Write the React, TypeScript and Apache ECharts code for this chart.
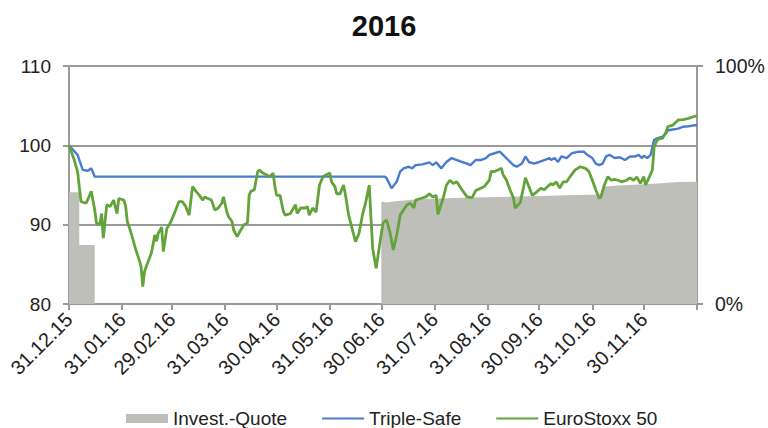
import React, { useEffect, useRef } from "react";
import * as echarts from "echarts";

// Day offsets are counted from 31.12.15 (day 0) to 31.12.16 (day 366)
const titleText = "2016";
const seriesNames = ["Invest.-Quote", "Triple-Safe", "EuroStoxx 50"];
const leftTicks = { min: 80, max: 110, interval: 10 };
const rightTicks = { min: 0, max: 100, interval: 100 };

// Invest.-Quote (% of capital invested, right axis)
const quoteDays = [0, 6, 6, 15, 15, 182, 182, 185, 190, 200, 210, 230, 250, 270, 290, 310, 311, 320, 335, 345, 355, 366];
const quoteValues = [47, 47, 24.8, 24.8, 0, 0, 43, 42.6, 43.2, 43.8, 44.2, 44.6, 45.0, 45.3, 45.7, 46.0, 49.3, 49.8, 50.3, 50.7, 51.3, 51.4];

// Triple-Safe (left axis)
const safeDays = [0, 5, 8, 11, 13, 15, 184, 185, 188, 191, 193, 195, 198, 200, 202, 206, 210, 212, 214, 217, 220, 223, 226, 229, 232, 234, 237, 240, 243, 245, 248, 251, 253, 256, 259, 261, 264, 266, 268, 271, 274, 277, 280, 281, 283, 285, 287, 290, 293, 297, 300, 302, 305, 307, 309, 311, 313, 315, 318, 321, 324, 327, 330, 332, 334, 335, 337, 339, 341, 343, 346, 348, 349, 352, 355, 358, 361, 365, 366];
const safeValues = [100, 98.8, 96.9, 96.8, 97.1, 96.05, 96.05, 95.9, 94.6, 95.4, 96.7, 97.1, 97.3, 97.1, 97.5, 97.6, 97.85, 97.5, 97.85, 97.1, 97.9, 98.4, 98.15, 97.9, 97.7, 97.5, 98.15, 98.15, 98.4, 98.8, 99.0, 99.2, 98.8, 98.15, 97.5, 97.3, 97.7, 98.6, 97.9, 97.7, 97.9, 98.15, 98.4, 98.15, 98.4, 97.9, 98.6, 98.4, 99.0, 99.2, 99.2, 98.8, 98.4, 97.7, 97.5, 97.7, 98.6, 98.8, 98.4, 98.5, 98.15, 98.6, 98.6, 98.8, 98.4, 98.7, 98.4, 98.8, 100.7, 100.9, 101.1, 101.5, 101.9, 102.0, 102.1, 102.35, 102.4, 102.55, 102.5];

// EuroStoxx 50 (left axis)
const stoxxDays = [0, 3, 5, 6, 7, 10, 13, 15, 16, 18, 19, 20, 22, 24, 26, 28, 29, 32, 33, 34, 36, 39, 41, 42, 43, 44, 46, 48, 50, 51, 52, 54, 55, 57, 59, 61, 64, 66, 68, 70, 72, 74, 76, 78, 79, 81, 83, 85, 87, 89, 90, 92, 93, 95, 96, 98, 100, 102, 104, 105, 106, 108, 110, 111, 113, 115, 117, 119, 120, 121, 123, 125, 126, 129, 132, 133, 135, 138, 139, 140, 142, 144, 146, 148, 150, 152, 153, 155, 156, 158, 160, 161, 163, 165, 167, 169, 171, 173, 175, 176, 177, 179, 181, 183, 185, 187, 189, 191, 193, 195, 197, 199, 201, 202, 205, 208, 210, 212, 214, 215, 218, 220, 222, 224, 226, 229, 232, 235, 237, 240, 242, 245, 246, 248, 250, 252, 253, 255, 257, 259, 260, 263, 265, 266, 268, 270, 273, 275, 277, 279, 281, 282, 284, 286, 288, 290, 292, 295, 298, 301, 303, 305, 307, 309, 310, 312, 314, 316, 318, 320, 322, 325, 327, 329, 331, 333, 335, 336, 338, 340, 341, 343, 346, 348, 349, 352, 355, 358, 361, 365, 366];
const stoxxValues = [100, 98.2, 96.7, 94.8, 92.9, 92.7, 94.2, 91.85, 90.2, 90.0, 91.4, 88.3, 92.5, 92.3, 93.1, 91.4, 93.3, 93.1, 92.3, 90.4, 89.1, 86.8, 85.5, 84.7, 82.2, 84.1, 85.3, 86.4, 88.7, 87.9, 88.9, 89.7, 86.6, 89.5, 90.2, 91.2, 92.9, 92.9, 92.3, 91.2, 94.8, 94.2, 93.7, 93.1, 93.5, 93.3, 93.1, 91.85, 92.1, 92.7, 93.5, 91.6, 91.0, 90.4, 89.3, 88.5, 89.3, 90.0, 90.2, 93.7, 94.2, 94.4, 96.7, 96.9, 96.5, 96.3, 96.05, 96.5, 94.8, 93.7, 93.7, 91.6, 91.2, 91.4, 92.5, 91.4, 92.1, 92.1, 92.3, 91.2, 92.1, 91.6, 95.0, 96.05, 96.3, 96.5, 95.4, 94.8, 93.9, 93.9, 95.0, 93.9, 91.2, 89.5, 87.85, 88.9, 91.2, 92.9, 95.0, 90.8, 87.0, 84.5, 87.4, 90.2, 90.6, 89.1, 86.8, 88.7, 91.2, 91.85, 92.5, 92.7, 92.1, 93.1, 93.3, 93.5, 93.9, 93.5, 93.7, 91.3, 93.3, 95.0, 95.6, 95.2, 95.4, 94.4, 93.5, 93.4, 94.3, 94.6, 94.8, 95.6, 96.7, 96.7, 96.9, 97.1, 96.3, 95.6, 94.4, 93.4, 92.1, 92.8, 94.8, 95.9, 94.8, 93.7, 94.2, 94.6, 94.4, 94.8, 95.2, 95.0, 95.4, 94.6, 95.4, 95.4, 96.05, 96.9, 97.3, 97.1, 96.7, 95.6, 94.4, 93.3, 93.5, 95.0, 96.05, 95.6, 95.7, 95.6, 95.4, 95.6, 95.9, 95.6, 96.0, 95.2, 96.05, 95.0, 95.9, 96.9, 99.8, 100.75, 100.9, 101.7, 102.35, 102.55, 103.2, 103.25, 103.4, 103.7, 103.6];

const DAY_COUNT = 367;

function buildCategories() {
  const cats: string[] = [];
  const monthEnd: boolean[] = [];
  for (let i = 0; i < DAY_COUNT; i++) {
    const d = new Date(2015, 11, 31 + i);
    const next = new Date(2015, 11, 32 + i);
    const dd = String(d.getDate()).padStart(2, "0");
    const mm = String(d.getMonth() + 1).padStart(2, "0");
    const yy = String(d.getFullYear() % 100).padStart(2, "0");
    cats.push(`${dd}.${mm}.${yy}`);
    monthEnd.push(next.getDate() === 1);
  }
  return { cats, monthEnd };
}

const FONT = "'Liberation Sans', Arial, sans-serif";
const AXIS_GRAY = "#9a9a9a";

export default function App() {
  const ref = useRef<HTMLDivElement>(null);

  useEffect(() => {
    document.body.style.margin = "0";
    if (!ref.current) return;
    const chart = echarts.init(ref.current, undefined, { renderer: "svg" });
    const { cats, monthEnd } = buildCategories();
    const pairs = (days: number[], vals: number[]) => days.map((d, i) => [cats[d], vals[i]]);

    chart.setOption({
      animation: false,
      backgroundColor: "#ffffff",
      textStyle: { fontFamily: FONT },
      title: {
        text: titleText,
        left: "center",
        top: 6,
        textStyle: { fontSize: 29, fontWeight: "bold", color: "#111", fontFamily: FONT },
      },
      grid: { left: 69, right: 71, top: 66, bottom: 124, containLabel: false },
      legend: {
        left: 121,
        top: 404,
        itemWidth: 42,
        itemHeight: 9,
        itemGap: 34,
        textStyle: { fontSize: 19, color: "#222", fontFamily: FONT },
        data: [
          { name: seriesNames[0], icon: "rect" },
          { name: seriesNames[1], itemStyle: { opacity: 0 } },
          { name: seriesNames[2], itemStyle: { opacity: 0 } },
        ],
      },
      xAxis: {
        type: "category",
        data: cats,
        boundaryGap: false,
        axisLine: { show: true, lineStyle: { color: AXIS_GRAY, width: 2 } },
        axisTick: {
          show: true,
          inside: false,
          length: 6,
          interval: (idx: number) => monthEnd[idx],
          lineStyle: { color: AXIS_GRAY, width: 2 },
        },
        axisLabel: {
          interval: (idx: number) => monthEnd[idx] && idx !== DAY_COUNT - 1,
          rotate: 45,
          margin: 12,
          fontSize: 20,
          color: "#222",
          fontFamily: FONT,
        },
        splitLine: { show: false },
      },
      yAxis: [
        {
          type: "value",
          min: leftTicks.min,
          max: leftTicks.max,
          interval: leftTicks.interval,
          axisLine: { show: true, lineStyle: { color: AXIS_GRAY, width: 2 } },
          axisTick: { show: true, length: 6, lineStyle: { color: AXIS_GRAY, width: 2 } },
          axisLabel: { fontSize: 19, color: "#222", margin: 18, fontFamily: FONT },
          splitLine: { show: true, lineStyle: { color: AXIS_GRAY, width: 2 } },
        },
        {
          type: "value",
          min: rightTicks.min,
          max: rightTicks.max,
          interval: rightTicks.interval,
          position: "right",
          axisLine: { show: true, lineStyle: { color: AXIS_GRAY, width: 2 } },
          axisTick: { show: true, length: 6, lineStyle: { color: AXIS_GRAY, width: 2 } },
          axisLabel: { fontSize: 19.5, color: "#222", margin: 18, formatter: "{value}%", fontFamily: FONT },
          splitLine: { show: false },
        },
      ],
      series: [
        {
          name: seriesNames[0],
          type: "line",
          yAxisIndex: 1,
          symbol: "none",
          data: pairs(quoteDays, quoteValues),
          lineStyle: { width: 0, color: "#bfbfba" },
          itemStyle: { color: "#bfbfba" },
          areaStyle: { color: "#bfbfba", opacity: 1 },
          z: 1,
        },
        {
          name: seriesNames[1],
          type: "line",
          symbol: "none",
          data: pairs(safeDays, safeValues),
          lineStyle: { width: 2.4, color: "#4a7bd0" },
          itemStyle: { color: "#4a7bd0" },
          z: 3,
        },
        {
          name: seriesNames[2],
          type: "line",
          symbol: "none",
          data: pairs(stoxxDays, stoxxValues),
          lineStyle: { width: 2.8, color: "#62a33a" },
          itemStyle: { color: "#62a33a" },
          z: 4,
        },
      ],
    });

    return () => chart.dispose();
  }, []);

  return (
    <div
      ref={ref}
      style={{ position: "fixed", left: 0, top: 0, width: 768, height: 428, background: "#fff" }}
    />
  );
}
